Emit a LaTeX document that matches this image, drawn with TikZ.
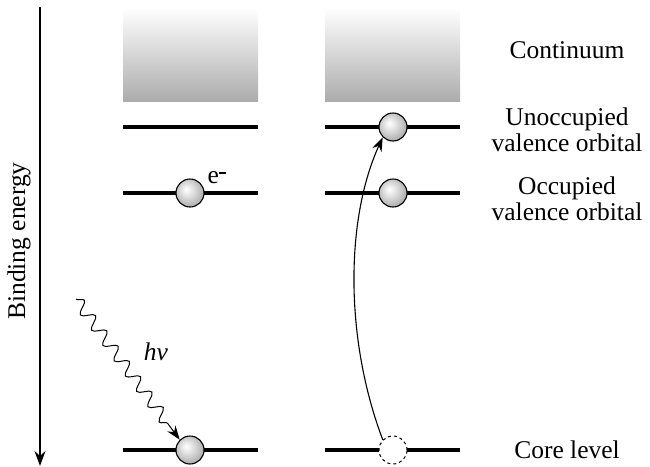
\documentclass[tikz,border=0pt]{standalone}
\usepackage{fontspec}
\setmainfont{Liberation Serif}
\usetikzlibrary{arrows.meta,decorations.pathmorphing,shadings}
\pgfdeclareradialshading{lightball}{\pgfpoint{-7bp}{7bp}}{%
  color(0bp)=(white);
  color(6bp)=(gray!12);
  color(20bp)=(gray!45);
  color(26bp)=(gray!60);
  color(50bp)=(gray!60)}
\begin{document}
\begin{tikzpicture}[x=1pt,y=-1pt,
  level/.style={line width=3.2pt},
  ball/.style={circle,draw=black,line width=1.1pt,minimum size=28pt,inner sep=0pt,shading=lightball},
  hole/.style={circle,draw=black,dashed,line width=1pt,minimum size=28pt,inner sep=0pt,fill=white},
  cont/.style={top color=white,bottom color=gray!65,draw=none},
  lbl/.style={font=\fontsize{25.5}{26.5}\selectfont,align=center}]
\useasboundingbox (0,0) rectangle (650,466);
% continuum boxes
\shade[cont] (123,8) rectangle (258,101);
\shade[cont] (325,8) rectangle (460,101);
% axis
\coordinate (atop) at (40,7);
\coordinate (abot) at (40,466);
\draw[line width=1.8pt,-{Stealth[length=15pt,width=11pt]}] (atop) -- (abot);
\node[lbl,rotate=90] (be) at (19,241) {Binding energy};
% levels left
\draw[level] (123,127) -- (258,127);
\draw[level] (123,193) -- (258,193);
\draw[level] (123,450) -- (258,450);
% levels right
\draw[level] (325,127) -- (460,127);
\draw[level] (325,193) -- (460,193);
\draw[level] (325,450) -- (460,450);
% balls
\node[ball] (l1) at (190,193) {};
\node[ball] (l2) at (190,450) {};
\node[ball] (r1) at (393,127) {};
\node[ball] (r2) at (393,193) {};
\node[hole] (r3) at (393,450) {};
\node[lbl,anchor=base west] (el) at (204,183) {e\raisebox{9pt}{\rule{7pt}{1.6pt}}};
% photon
\coordinate (ph) at (76,299);
\draw[line width=1pt,decorate,decoration={snake,amplitude=6pt,segment length=19pt,post length=12pt},-{Stealth[length=14pt,width=10pt]}] (ph) -- (l2.north west);
\node[lbl] (hv) at (156,352) {\itshape hν};
% excitation arrow
\draw[line width=1.1pt,-{Stealth[length=14pt,width=10pt]}] (r3.north west) .. controls (345,340) and (345,220) .. (r1.south west);
% right labels
\node[lbl] (c) at (567,50) {Continuum};
\node[lbl] (u) at (567,130) {Unoccupied\\valence orbital};
\node[lbl] (o) at (567,199) {Occupied\\valence orbital};
\node[lbl] (cl) at (567,450) {Core level};
\end{tikzpicture}
\end{document}
